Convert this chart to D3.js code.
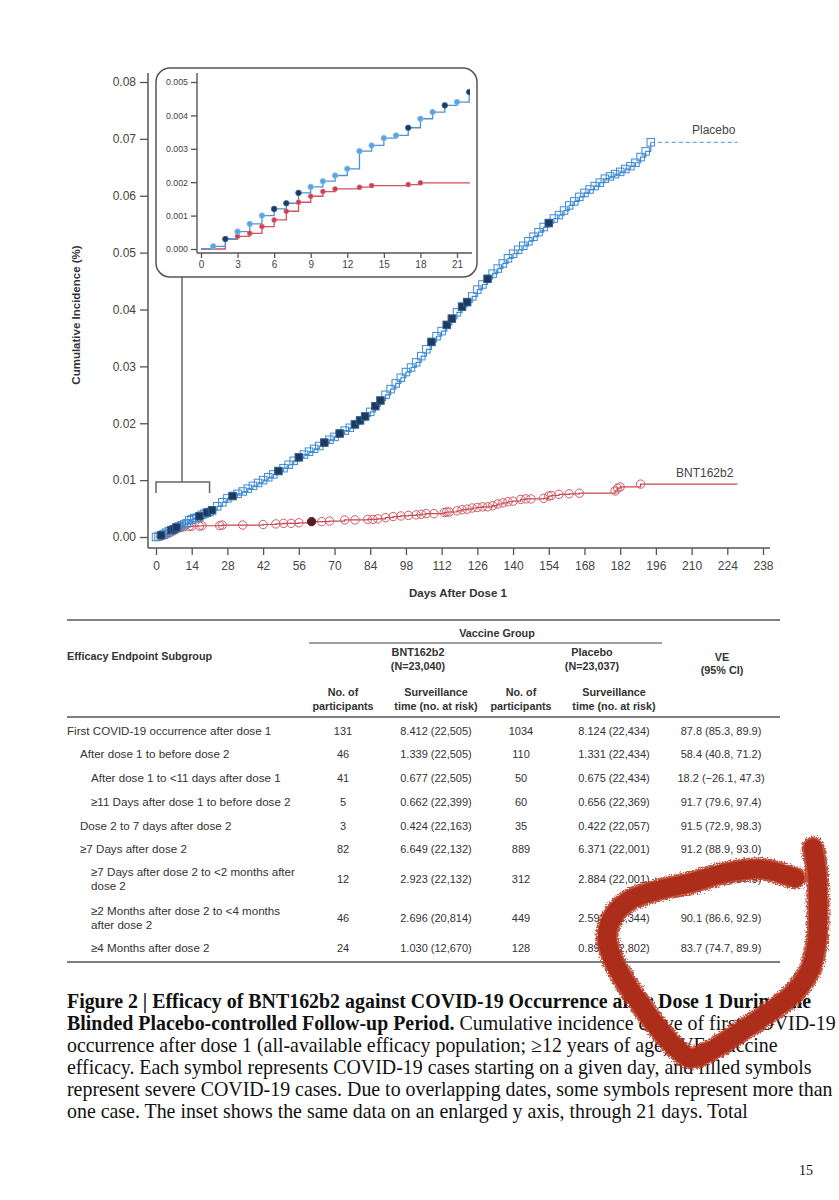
<!DOCTYPE html>
<html>
<head>
<meta charset="utf-8" />
<title>Figure 2</title>
<script src="https://d3js.org/d3.v7.min.js"></script>
<style>
  body { margin: 0; background: #fff; }
  svg { display: block; }
  .ax text { font-family: "Liberation Sans", Arial, sans-serif; fill: #444; }
  .ax line { stroke: #555; stroke-width: 1.3; }
  .tbl { font-family: "Liberation Sans", Arial, sans-serif; fill: #333; }
  .cap { font-family: "Liberation Serif", "Times New Roman", serif; fill: #111; }
</style>
</head>
<body>
<svg id="page" width="839" height="1200"></svg>
<script>
// ---- curve data (cumulative incidence, %) ----
var placeboDays = [0,1,2,3,4,5,6,7,8,9,10,11,12,13,14,15,16,17,18,19,20,21,22,
  24,26,28,30,32,34,36,38,40,42,44,46,48,50,52,54,56,58,60,62,64,66,68,70,
  72,74,76,78,80,82,84,86,88,90,92,94,96,98,100,102,104,106,108,110,112,114,
  116,118,120,122,124,126,128,130,132,134,136,138,140,142,144,146,148,150,152,
  154,156,158,160,162,164,166,168,170,172,174,176,178,180,182,184,186,188,190,192,194];
var placeboInc = [0,0.00008,0.0003,0.00052,0.00075,0.0010,0.0012,0.00137,0.00168,0.00186,0.00203,0.0022,0.0024,0.00293,0.0031,0.00332,0.0034,0.00363,0.0039,0.0041,0.0043,0.0044,0.0047,
  0.0054,0.0061,0.0068,0.0072,0.0076,0.0080,0.0085,0.0090,0.0095,0.0100,0.0105,0.0110,0.0116,0.0121,0.0127,0.0134,0.0140,0.0145,0.0150,0.0155,0.0160,0.0166,0.0171,0.0176,
  0.0182,0.0187,0.0192,0.0198,0.0205,0.0212,0.0220,0.0230,0.0240,0.0250,0.0260,0.0270,0.0280,0.0290,0.0298,0.0307,0.0318,0.0330,0.0343,0.0353,0.0362,0.0373,
  0.0384,0.0395,0.0405,0.0413,0.0423,0.0435,0.0444,0.0454,0.0463,0.0472,0.0481,0.0490,0.0498,0.0505,0.0512,0.0520,0.0528,0.0536,0.0545,
  0.0552,0.0560,0.0566,0.0574,0.0583,0.0590,0.0598,0.0605,0.0611,0.0617,0.0623,0.0630,0.0634,0.0638,0.0642,0.0647,0.0652,0.0658,0.0668,0.0678,0.0694];
var placeboSevere = [2,6,7,8,17,20,22,30,48,56,66,72,78,80,82,86,88,108,114,116,120,122,130,154];

var bntDays = [0,2,3,4,5,6,7,8,9,10,11,13,14,17,18,25,26,34,42,47,50,53,56,
  61,65,68,74,78,83,85,87,90,93,96,99,102,104,106,109,113,114,115,118,120,122,124,126,128,130,
  132,134,136,138,140,143,145,147,152,154,155,158,162,166,180,181,182,190];
var bntInc = [0,0.0003,0.00038,0.00047,0.00067,0.00087,0.00113,0.0014,0.00158,0.00172,0.0018,0.00185,0.0019,0.00193,0.00198,0.0020,0.0021,0.0021,0.0022,0.0023,0.0024,0.0024,0.0025,
  0.0027,0.0027,0.0028,0.0030,0.0030,0.0031,0.0031,0.0032,0.0034,0.0036,0.0037,0.0038,0.0039,0.0040,0.0041,0.0041,0.0043,0.0044,0.0044,0.0046,0.0048,0.0049,0.0051,0.0052,0.0053,0.0053,
  0.0055,0.0058,0.0060,0.0062,0.0063,0.0066,0.0067,0.0067,0.0068,0.0072,0.0073,0.0075,0.0076,0.0077,0.0081,0.0086,0.0088,0.0093];
var bntSevere = [61];
var followEnd = 228;   // last day of follow-up drawn for both curves

var yTicks = [0, 0.01, 0.02, 0.03, 0.04, 0.05, 0.06, 0.07, 0.08];
var xTicks = [0,14,28,42,56,70,84,98,112,126,140,154,168,182,196,210,224,238];
var insetYTicks = [0, 0.001, 0.002, 0.003, 0.004, 0.005];
var insetXTicks = [0,3,6,9,12,15,18,21];
var insetMaxDay = 22;

// ---- table data ----
var rowLabels = [
  ["First COVID-19 occurrence after dose 1"],
  ["After dose 1 to before dose 2"],
  ["After dose 1 to <11 days after dose 1"],
  ["\u226511 Days after dose 1 to before dose 2"],
  ["Dose 2 to 7 days after dose 2"],
  ["\u22657 Days after dose 2"],
  ["\u22657 Days after dose 2 to <2 months after", "dose 2"],
  ["\u22652 Months after dose 2 to <4 months", "after dose 2"],
  ["\u22654 Months after dose 2"]
];
var rowLevel = [0,1,2,2,1,1,2,2,2];
var bntCases = ["131","46","41","5","3","82","12","46","24"];
var bntTime = ["8.412 (22,505)","1.339 (22,505)","0.677 (22,505)","0.662 (22,399)","0.424 (22,163)","6.649 (22,132)","2.923 (22,132)","2.696 (20,814)","1.030 (12,670)"];
var placeboCases = ["1034","110","50","60","35","889","312","449","128"];
var placeboTime = ["8.124 (22,434)","1.331 (22,434)","0.675 (22,434)","0.656 (22,369)","0.422 (22,057)","6.371 (22,001)","2.884 (22,001)","2.593 (21,344)","0.895 (12,802)"];
var veCI = ["87.8 (85.3, 89.9)","58.4 (40.8, 71.2)","18.2 (\u221226.1, 47.3)","91.7 (79.6, 97.4)","91.5 (72.9, 98.3)","91.2 (88.9, 93.0)","96.0 (93.3, 97.9)","90.1 (86.6, 92.9)","83.7 (74.7, 89.9)"];

var captionLines = [
  [["b","Figure 2 | Efficacy of BNT162b2 against COVID-19 Occurrence after Dose 1 During the"]],
  [["b","Blinded Placebo-controlled Follow-up Period."],["n"," Cumulative incidence curve of first COVID-19"]],
  [["n","occurrence after dose 1 (all-available efficacy population; \u226512 years of age). VE=vaccine"]],
  [["n","efficacy. Each symbol represents COVID-19 cases starting on a given day, and filled symbols"]],
  [["n","represent severe COVID-19 cases. Due to overlapping dates, some symbols represent more than"]],
  [["n","one case. The inset shows the same data on an enlarged y axis, through 21 days. Total"]]
];

var svg = d3.select("#page");
svg.append("rect").attr("width", 839).attr("height", 1200).attr("fill", "#fff");

var BLUE = "#3d8ad4", NAVY = "#1d3a5c", RED = "#c9444e", MAROON = "#5a1a22", AXIS = "#555";

function zip(days, inc) {
  return days.map(function (d, i) { return { day: d, v: inc[i] }; });
}
var placebo = zip(placeboDays, placeboInc);
var bnt = zip(bntDays, bntInc);

// ---------- main chart ----------
var x = d3.scaleLinear().domain([0, 238]).range([156, 763]);
var y = d3.scaleLinear().domain([0, 0.08]).range([537, 82]);

var yAx = svg.append("g").attr("class", "ax").attr("transform", "translate(148,0)")
  .call(d3.axisLeft(y).tickValues(yTicks).tickFormat(d3.format(".2f")).tickSize(8).tickPadding(4));
yAx.select(".domain").remove();
yAx.selectAll("text").style("font-size", "12px");
svg.append("line").attr("x1", 148).attr("x2", 148).attr("y1", 73).attr("y2", 548)
  .attr("stroke", AXIS).attr("stroke-width", 1.5);

var xAx = svg.append("g").attr("class", "ax").attr("transform", "translate(0,548)")
  .call(d3.axisBottom(x).tickValues(xTicks).tickSize(7).tickPadding(6));
xAx.select(".domain").remove();
xAx.selectAll("text").style("font-size", "12px");
svg.append("line").attr("x1", 148).attr("x2", 770).attr("y1", 548).attr("y2", 548)
  .attr("stroke", AXIS).attr("stroke-width", 1.5);

svg.append("text").attr("x", 458).attr("y", 597).attr("text-anchor", "middle")
  .style("font-family", "Liberation Sans, Arial, sans-serif").style("font-weight", "bold")
  .style("font-size", "11.5px").attr("fill", "#333").text("Days After Dose 1");
svg.append("text").attr("transform", "translate(80,315) rotate(-90)").attr("text-anchor", "middle")
  .style("font-family", "Liberation Sans, Arial, sans-serif").style("font-weight", "bold")
  .style("font-size", "11.5px").attr("fill", "#333").text("Cumulative Incidence (%)");

var step = d3.line().curve(d3.curveStepAfter)
  .x(function (d) { return x(d.day); }).y(function (d) { return y(d.v); });

// BNT162b2 curve
var bntLast = bnt[bnt.length - 1];
svg.append("path").datum(bnt.concat([{ day: followEnd, v: bntLast.v }]))
  .attr("d", step).attr("fill", "none").attr("stroke", RED).attr("stroke-width", 1.2);
svg.append("g").selectAll("circle").data(bnt.filter(function (d) { return d.v > 0; }))
  .join("circle")
  .attr("cx", function (d) { return x(d.day); }).attr("cy", function (d) { return y(d.v); })
  .attr("r", 4.2)
  .attr("fill", function (d) { return bntSevere.indexOf(d.day) >= 0 ? MAROON : "none"; })
  .attr("stroke", function (d) { return bntSevere.indexOf(d.day) >= 0 ? MAROON : "#cf5a63"; })
  .attr("stroke-width", 1);

// placebo curve
var plLast = placebo[placebo.length - 1];
svg.append("path").datum(placebo).attr("d", step)
  .attr("fill", "none").attr("stroke", BLUE).attr("stroke-width", 1.2);
svg.append("line").attr("x1", x(plLast.day)).attr("x2", x(followEnd))
  .attr("y1", y(plLast.v)).attr("y2", y(plLast.v))
  .attr("stroke", "#6fa6dc").attr("stroke-width", 1.3).attr("stroke-dasharray", "4,3");
var sq = 7.5;
svg.append("g").selectAll("rect").data(placebo.filter(function (d) { return placeboSevere.indexOf(d.day) < 0; }))
  .join("rect")
  .attr("x", function (d) { return x(d.day) - sq / 2; }).attr("y", function (d) { return y(d.v) - sq / 2; })
  .attr("width", sq).attr("height", sq)
  .attr("fill", "none").attr("stroke", BLUE).attr("stroke-width", 1);
svg.append("g").selectAll("rect").data(placebo.filter(function (d) { return placeboSevere.indexOf(d.day) >= 0; }))
  .join("rect")
  .attr("x", function (d) { return x(d.day) - sq / 2; }).attr("y", function (d) { return y(d.v) - sq / 2; })
  .attr("width", sq).attr("height", sq)
  .attr("fill", NAVY).attr("stroke", "#2e5f92").attr("stroke-width", 1);

svg.append("text").attr("x", 692).attr("y", 134)
  .style("font-family", "Liberation Sans, Arial, sans-serif").style("font-size", "12px")
  .attr("fill", "#444").text("Placebo");
svg.append("text").attr("x", 676).attr("y", 477)
  .style("font-family", "Liberation Sans, Arial, sans-serif").style("font-size", "12px")
  .attr("fill", "#444").text("BNT162b2");

// bracket linking the first 21 days to the inset
svg.append("path").attr("d", "M" + x(0) + ",493V482H" + x(21) + "V493")
  .attr("fill", "none").attr("stroke", "#666").attr("stroke-width", 1.5);
svg.append("line").attr("x1", 182).attr("x2", 182).attr("y1", 277).attr("y2", 482)
  .attr("stroke", "#666").attr("stroke-width", 1.5);

// ---------- inset ----------
svg.append("rect").attr("x", 156).attr("y", 68).attr("width", 321).attr("height", 209)
  .attr("rx", 14).attr("fill", "#fff").attr("stroke", AXIS).attr("stroke-width", 1.5);

var xi = d3.scaleLinear().domain([0, 21]).range([201, 457]);
var yi = d3.scaleLinear().domain([0, 0.005]).range([249, 82]);

var yiAx = svg.append("g").attr("class", "ax").attr("transform", "translate(197,0)")
  .call(d3.axisLeft(yi).tickValues(insetYTicks).tickFormat(d3.format(".3f")).tickSize(6).tickPadding(3));
yiAx.select(".domain").remove();
yiAx.selectAll("text").style("font-size", "8.8px");
svg.append("line").attr("x1", 197).attr("x2", 197).attr("y1", 73).attr("y2", 253)
  .attr("stroke", AXIS).attr("stroke-width", 1.4);
var xiAx = svg.append("g").attr("class", "ax").attr("transform", "translate(0,253)")
  .call(d3.axisBottom(xi).tickValues(insetXTicks).tickSize(5).tickPadding(3));
xiAx.select(".domain").remove();
xiAx.selectAll("text").style("font-size", "10px");
svg.append("line").attr("x1", 197).attr("x2", 472).attr("y1", 253).attr("y2", 253)
  .attr("stroke", AXIS).attr("stroke-width", 1.4);

svg.append("clipPath").attr("id", "insetClip").append("rect")
  .attr("x", 198).attr("y", 70).attr("width", 272).attr("height", 183);
var ig = svg.append("g").attr("clip-path", "url(#insetClip)");

var stepI = d3.line().curve(d3.curveStepAfter)
  .x(function (d) { return xi(d.day); }).y(function (d) { return yi(d.v); });
var bntIn = bnt.filter(function (d) { return d.day <= insetMaxDay; });
var plIn = placebo.filter(function (d) { return d.day <= insetMaxDay; });

ig.append("path").datum(bntIn.concat([{ day: insetMaxDay + 0.3, v: bntIn[bntIn.length - 1].v }]))
  .attr("d", stepI).attr("fill", "none").attr("stroke", "#d4505c").attr("stroke-width", 1.3);
ig.append("path").datum(plIn).attr("d", stepI)
  .attr("fill", "none").attr("stroke", "#4b93d6").attr("stroke-width", 1.3);
ig.selectAll("circle.r").data(bntIn.filter(function (d) { return d.v > 0; }))
  .join("circle").attr("class", "r")
  .attr("cx", function (d) { return xi(d.day); }).attr("cy", function (d) { return yi(d.v); })
  .attr("r", 2.5).attr("fill", "#c9404e").attr("stroke", "#e07a84").attr("stroke-width", 0.6);
ig.selectAll("circle.b").data(plIn.filter(function (d) { return d.v > 0; }))
  .join("circle").attr("class", "b")
  .attr("cx", function (d) { return xi(d.day); }).attr("cy", function (d) { return yi(d.v); })
  .attr("r", 2.8)
  .attr("fill", function (d) { return placeboSevere.indexOf(d.day) >= 0 ? NAVY : "#5aa3e2"; })
  .attr("stroke", function (d) { return placeboSevere.indexOf(d.day) >= 0 ? "#3b6a9a" : "#8cc0ec"; })
  .attr("stroke-width", 0.8);

// ---------- table ----------
var T = svg.append("g").attr("class", "tbl");
function rule(x1, x2, yy, w) {
  T.append("line").attr("x1", x1).attr("x2", x2).attr("y1", yy).attr("y2", yy)
    .attr("stroke", "#808080").attr("stroke-width", w);
}
function txt(s, xx, yy, anchor, bold, size) {
  return T.append("text").attr("x", xx).attr("y", yy).attr("text-anchor", anchor || "start")
    .style("font-size", (size || 11) + "px").style("font-weight", bold ? "bold" : "normal").text(s);
}
rule(67, 780, 620, 2.2);
rule(309, 662, 643, 1.4);
rule(67, 780, 717, 2.2);
rule(67, 780, 962, 2.2);

var colX = [343, 436, 521, 614, 721];
var hs = 10.8;
txt("Vaccine Group", 497, 637, "middle", true, hs);
txt("Efficacy Endpoint Subgroup", 67, 660, "start", true, hs);
txt("BNT162b2", 418, 656, "middle", true, hs);
txt("(N=23,040)", 418, 670, "middle", true, hs);
txt("Placebo", 592, 656, "middle", true, hs);
txt("(N=23,037)", 592, 670, "middle", true, hs);
txt("VE", 722, 661, "middle", true, hs);
txt("(95% CI)", 722, 674, "middle", true, hs);
[0, 2].forEach(function (k) {
  txt("No. of", colX[k], 696, "middle", true, hs);
  txt("participants", colX[k], 710, "middle", true, hs);
  txt("Surveillance", colX[k + 1], 696, "middle", true, hs);
  txt("time (no. at risk)", colX[k + 1], 710, "middle", true, hs);
});

var rowY = [735, 758, 782, 806, 830, 853, 883, 922, 952];
var levelX = [67, 80, 91];
rowLabels.forEach(function (lines, i) {
  var yy = rowY[i];
  if (lines.length === 1) {
    txt(lines[0], levelX[rowLevel[i]], yy, "start", false, 11.6);
  } else {
    txt(lines[0], levelX[rowLevel[i]], yy - 7, "start", false, 11.6);
    txt(lines[1], levelX[rowLevel[i]], yy + 7, "start", false, 11.6);
  }
  txt(bntCases[i], colX[0], yy, "middle");
  txt(bntTime[i], colX[1], yy, "middle");
  txt(placeboCases[i], colX[2], yy, "middle");
  txt(placeboTime[i], colX[3], yy, "middle");
  txt(veCI[i], colX[4], yy, "middle");
});

// ---------- caption ----------
var C = svg.append("g").attr("class", "cap");
captionLines.forEach(function (parts, i) {
  var t = C.append("text").attr("x", 67).attr("y", 1008 + i * 22).style("font-size", "19.9px");
  parts.forEach(function (p) {
    t.append("tspan").style("font-weight", p[0] === "b" ? "bold" : "normal").text(p[1]);
  });
});
C.append("text").attr("x", 813).attr("y", 1175).attr("text-anchor", "end")
  .style("font-size", "14px").text("15");

// ---------- hand-drawn red loop over the page ----------
var loop = [[795,878],[760,869],[725,873],[690,883],[655,891],[630,900],[614,915],[607,935],
  [612,957],[624,980],[641,1005],[658,1028],[675,1047],[690,1058],[710,1051],[737,1034],
  [767,1014],[793,994],[810,970],[817,940],[818,907],[817,873],[813,848]];
var defs = svg.append("defs");
var f = defs.append("filter").attr("id", "rough").attr("filterUnits", "userSpaceOnUse")
  .attr("x", 570).attr("y", 815).attr("width", 269).attr("height", 280);
f.append("feTurbulence").attr("type", "fractalNoise").attr("baseFrequency", 0.7)
  .attr("numOctaves", 2).attr("result", "noise");
f.append("feDisplacementMap").attr("in", "SourceGraphic").attr("in2", "noise")
  .attr("scale", 7).attr("xChannelSelector", "R").attr("yChannelSelector", "G");
var loopLine = d3.line().curve(d3.curveCatmullRom.alpha(0.5));
svg.append("path").datum(loop).attr("d", loopLine)
  .attr("fill", "none").attr("stroke", "#b8341f").attr("stroke-width", 23)
  .attr("stroke-linecap", "round").attr("stroke-linejoin", "round")
  .attr("opacity", 0.85).attr("filter", "url(#rough)");
svg.append("path").datum(loop).attr("d", loopLine)
  .attr("fill", "none").attr("stroke", "#ad2d1b").attr("stroke-width", 18)
  .attr("stroke-linecap", "round").attr("stroke-linejoin", "round");
</script>
</body>
</html>
